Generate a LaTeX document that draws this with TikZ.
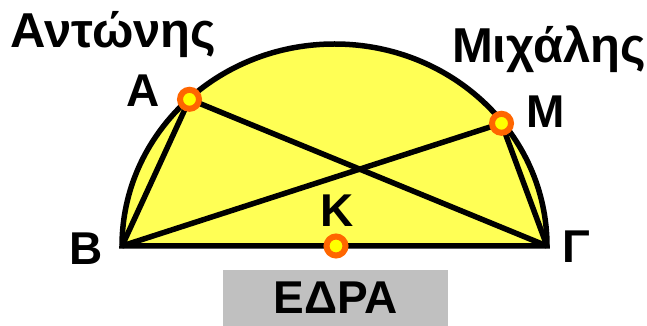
\documentclass[tikz,border=0pt]{standalone}
\usepackage{fontspec}
\setmainfont{Liberation Sans}
\definecolor{fillyellow}{RGB}{255,255,85}
\definecolor{ringorange}{RGB}{255,102,0}
\definecolor{dotyellow}{RGB}{255,255,0}
\definecolor{edragray}{RGB}{192,192,192}
\tikzset{
    label text/.style={font=\fontsize{46}{52}\selectfont\bfseries, inner sep=0pt, anchor=base},
    name text/.style={label text, font=\fontsize{49}{54}\selectfont\bfseries},
    chord/.style={line width=5.5pt, line join=miter},
    dot/.style={circle, draw=ringorange, fill=dotyellow, line width=6pt,
        minimum size=19pt, inner sep=0pt}
}
\begin{document}
\begin{tikzpicture}[x=1pt, y=1pt]
    \useasboundingbox (0,0) rectangle (647,326);

    % Τα σημεία του ημικυκλίου.
    \coordinate (B) at (122,80);
    \coordinate (G) at (547,80);
    \coordinate (K) at (336,80);
    \coordinate (A) at (189.5,226.7);
    \coordinate (M) at (501.5,202.7);

    % Το γεμάτο ημικύκλιο με τη διάμετρο ΒΓ.
    \fill[fillyellow] (B) -- (G) arc[start angle=0, end angle=180,
        x radius=212.5, y radius=202] -- cycle;

    % Οι χορδές προς τους δύο παίκτες.
    \draw[chord] (B) -- (A) -- (G);
    \draw[chord] (B) -- (M) -- (G);
    \draw[chord] (B) -- (G) arc[start angle=0, end angle=180,
        x radius=212.5, y radius=202] -- cycle;

    % Η έδρα κάτω από τη διάμετρο.
    \node[fill=edragray, minimum width=225pt, minimum height=56pt,
        font=\fontsize{46}{52}\selectfont\bfseries, inner sep=0pt]
        (edra) at (335.5,28) {ΕΔΡΑ};

    % Τα σημεία Α, Μ, Κ.
    \node[dot] (Adot) at (A) {};
    \node[dot] (Mdot) at (M) {};
    \node[dot] (Kdot) at (K) {};

    % Ετικέτες.
    \node[name text] (anton) at (113.5,278) {Αντώνης};
    \node[name text] (michal) at (549,263) {Μιχάλης};
    \node[label text] (Alab) at (143.5,219) {Α};
    \node[label text] (Mlab) at (545.5,198) {Μ};
    \node[label text] (Klab) at (337.5,99) {Κ};
    \node[label text] (Blab) at (86.5,61) {Β};
    \node[label text] (Glab) at (576,63) {Γ};
\end{tikzpicture}
\end{document}
